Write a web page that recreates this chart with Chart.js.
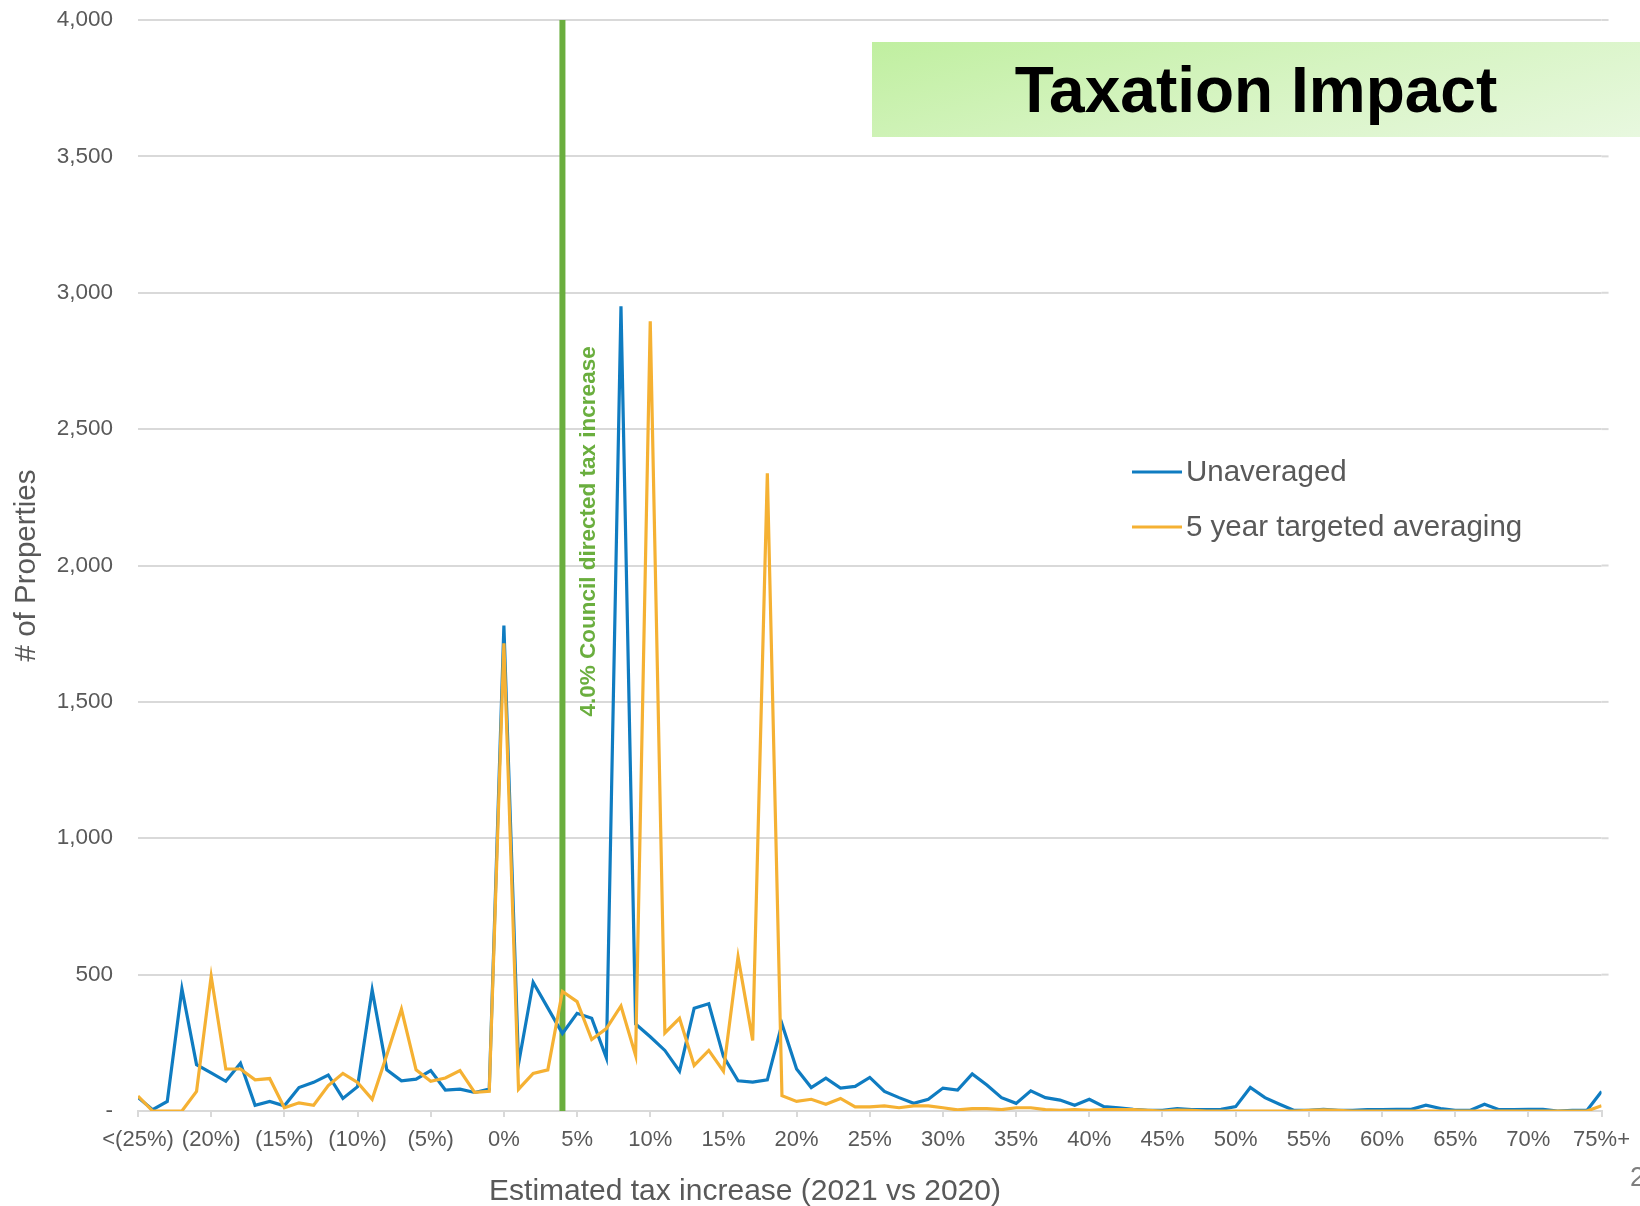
<!DOCTYPE html>
<html>
<head>
<meta charset="utf-8">
<title>Taxation Impact</title>
<script src="https://cdn.jsdelivr.net/npm/chart.js@4.4.1/dist/chart.umd.min.js"></script>
<style>
  html, body { margin: 0; padding: 0; background: #fff; overflow: hidden; }
  #wrap { position: relative; width: 1640px; height: 1206px; }
  #titleBox {
    position: absolute; left: 872px; top: 42px; width: 768px; height: 95px;
    background: linear-gradient(165deg, #c0efa0 0%, #d6f4c2 50%, #e8f8df 100%);
    display: flex; align-items: center; justify-content: center;
    font-family: "Liberation Sans", Arial, sans-serif; font-weight: bold;
    font-size: 64px; color: #000;
  }
  #pageNo {
    position: absolute; left: 1630px; top: 1162px;
    font-family: "Liberation Sans", Arial, sans-serif; font-size: 27px; color: #7f7f7f;
  }
</style>
</head>
<body>
<div id="wrap">
  <canvas id="chart" width="1640" height="1206"></canvas>
  <div id="titleBox">Taxation Impact</div>
  <div id="pageNo">2</div>
</div>
<script>
// tax change buckets in percent (<(25%) ... 75%+)
const pcts = [
  -25, -24, -23, -22, -21, -20, -19, -18, -17, -16,
  -15, -14, -13, -12, -11, -10, -9, -8, -7, -6,
  -5, -4, -3, -2, -1, 0, 1, 2, 3, 4,
  5, 6, 7, 8, 9, 10, 11, 12, 13, 14,
  15, 16, 17, 18, 19, 20, 21, 22, 23, 24,
  25, 26, 27, 28, 29, 30, 31, 32, 33, 34,
  35, 36, 37, 38, 39, 40, 41, 42, 43, 44,
  45, 46, 47, 48, 49, 50, 51, 52, 53, 54,
  55, 56, 57, 58, 59, 60, 61, 62, 63, 64,
  65, 66, 67, 68, 69, 70, 71, 72, 73, 74,
  75
];

const unaveraged = [
  50, 5, 35, 448, 170, 140, 109, 175, 21, 35,
  19, 86, 105, 132, 46, 89, 444, 151, 111, 117,
  148, 77, 80, 68, 80, 1780, 173, 472, 378, 284,
  358, 340, 195, 2950, 319, 272, 222, 146, 377, 393,
  200, 111, 106, 114, 319, 154, 86, 120, 84, 90,
  123, 72, 49, 28, 43, 84, 77, 136, 95, 49,
  28, 74, 49, 40, 21, 43, 16, 12, 6, 2,
  2, 9, 5, 5, 6, 16, 86, 49, 25, 2,
  2, 6, 2, 2, 5, 5, 6, 6, 21, 9,
  2, 2, 25, 5, 5, 6, 6, 0, 2, 2,
  72
];

const averaged5yr = [
  55, 0, 0, 0, 72, 494, 154, 154, 114, 119,
  12, 30, 21, 93, 138, 105, 43, 205, 373, 151,
  109, 121, 148, 68, 72, 1715, 80, 138, 151, 438,
  401, 262, 302, 385, 204, 2895, 286, 340, 167, 222,
  146, 565, 259, 2338, 56, 35, 43, 25, 46, 15,
  15, 19, 12, 19, 19, 12, 4, 9, 9, 5,
  12, 12, 5, 2, 5, 2, 5, 5, 5, 2,
  0, 3, 2, 0, 0, 0, 0, 0, 0, 0,
  2, 4, 2, 0, 0, 0, 0, 0, 0, 0,
  0, 0, 0, 0, 0, 0, 0, 0, 0, 0,
  19
];

const xTickLabels = [
  "<(25%)", "(20%)", "(15%)", "(10%)", "(5%)", "0%", "5%", "10%", "15%",
  "20%", "25%", "30%", "35%", "40%", "45%", "50%", "55%", "60%", "65%",
  "70%", "75%+"
];

const seriesNames = ["Unaveraged", "5 year targeted averaging"];
const councilRate = 4.0;
const councilLine = [0, 4000];
const councilLabel = "4.0% Council directed tax increase";

const BLUE = "#0f7cc1";
const ORANGE = "#f5b133";
const GREEN = "#6aae3e";
const GREY_TEXT = "#595959";
const FONT = "'Liberation Sans', Arial, sans-serif";

function toPoints(values) {
  return values.map((v, i) => ({ x: pcts[i], y: v }));
}

// legend, green label and x title drawn on top of the plot
const extrasPlugin = {
  id: "extras",
  beforeDatasetsDraw(chart) {
    // gridlines run a little past the last point in the original
    const ctx = chart.ctx;
    const ys = chart.scales.y;
    const right = chart.chartArea.right;
    ctx.save();
    ctx.strokeStyle = "#d9d9d9";
    ctx.lineWidth = 2;
    for (let v = 500; v <= 4000; v += 500) {
      const y = ys.getPixelForValue(v);
      ctx.beginPath();
      ctx.moveTo(right, y);
      ctx.lineTo(right + 7, y);
      ctx.stroke();
    }
    ctx.restore();
  },
  afterDraw(chart) {
    const ctx = chart.ctx;
    const xs = chart.scales.x;
    const ys = chart.scales.y;

    // council label
    ctx.save();
    ctx.translate(xs.getPixelForValue(councilRate) + 26, ys.getPixelForValue(2125));
    ctx.rotate(-Math.PI / 2);
    ctx.fillStyle = GREEN;
    ctx.font = "bold 22.5px " + FONT;
    ctx.textAlign = "center";
    ctx.textBaseline = "middle";
    ctx.fillText(councilLabel, 0, 0);
    ctx.restore();

    // legend
    const colors = [BLUE, ORANGE];
    const rowsY = [472, 527];
    ctx.save();
    ctx.font = "29.5px " + FONT;
    ctx.textBaseline = "middle";
    ctx.textAlign = "left";
    seriesNames.forEach((name, i) => {
      ctx.strokeStyle = colors[i];
      ctx.lineWidth = 3;
      ctx.beginPath();
      ctx.moveTo(1132, rowsY[i]);
      ctx.lineTo(1182, rowsY[i]);
      ctx.stroke();
      ctx.fillStyle = GREY_TEXT;
      ctx.fillText(name, 1186, rowsY[i] + 1);
    });
    ctx.restore();

    // x axis title
    ctx.save();
    ctx.font = "30px " + FONT;
    ctx.fillStyle = GREY_TEXT;
    ctx.textAlign = "center";
    ctx.textBaseline = "middle";
    ctx.fillText("Estimated tax increase (2021 vs 2020)", 745, 1192);
    ctx.restore();
  }
};

window.onload = function () {
  const ctx = document.getElementById("chart").getContext("2d");
  new Chart(ctx, {
    type: "line",
    data: {
      datasets: [
        {
          label: seriesNames[0],
          data: toPoints(unaveraged),
          borderColor: BLUE,
          borderWidth: 3.2,
          pointRadius: 0,
          tension: 0,
          order: 1
        },
        {
          label: seriesNames[1],
          data: toPoints(averaged5yr),
          borderColor: ORANGE,
          borderWidth: 3.2,
          pointRadius: 0,
          tension: 0,
          order: 0
        },
        {
          label: "council",
          data: councilLine.map((v) => ({ x: councilRate, y: v })),
          borderColor: GREEN,
          borderWidth: 6,
          pointRadius: 0,
          order: 2
        }
      ]
    },
    options: {
      responsive: false,
      animation: false,
      layout: { padding: { top: 20, right: 32, bottom: 0, left: 0 } },
      plugins: {
        legend: { display: false },
        tooltip: { enabled: false }
      },
      scales: {
        x: {
          type: "linear",
          min: -25,
          max: 75,
          afterFit(scale) { scale.height = 95; },
          ticks: {
            stepSize: 5,
            autoSkip: false,
            maxRotation: 0,
            padding: 10,
            color: GREY_TEXT,
            font: { family: FONT, size: 22 },
            callback: (v) => xTickLabels[Math.round((v + 25) / 5)]
          },
          grid: {
            drawOnChartArea: false,
            drawTicks: true,
            tickLength: 6,
            color: "#d9d9d9",
            lineWidth: 2
          },
          border: { display: true, color: "#d9d9d9", width: 2 }
        },
        y: {
          min: 0,
          max: 4000,
          afterFit(scale) { scale.width = 138; },
          ticks: {
            stepSize: 500,
            padding: 2,
            color: GREY_TEXT,
            font: { family: FONT, size: 22.5 },
            callback: (v) => (v === 0 ? "-" : v.toLocaleString("en-US"))
          },
          grid: {
            color: "#d9d9d9",
            lineWidth: 2,
            drawTicks: true,
            tickLength: 23,
            tickColor: "rgba(0,0,0,0)"
          },
          border: { display: false },
          title: {
            display: true,
            text: "# of Properties",
            color: GREY_TEXT,
            font: { family: FONT, size: 29.5 },
            padding: { top: 9, bottom: 0 }
          }
        }
      }
    },
    plugins: [extrasPlugin]
  });
};
</script>
</body>
</html>
